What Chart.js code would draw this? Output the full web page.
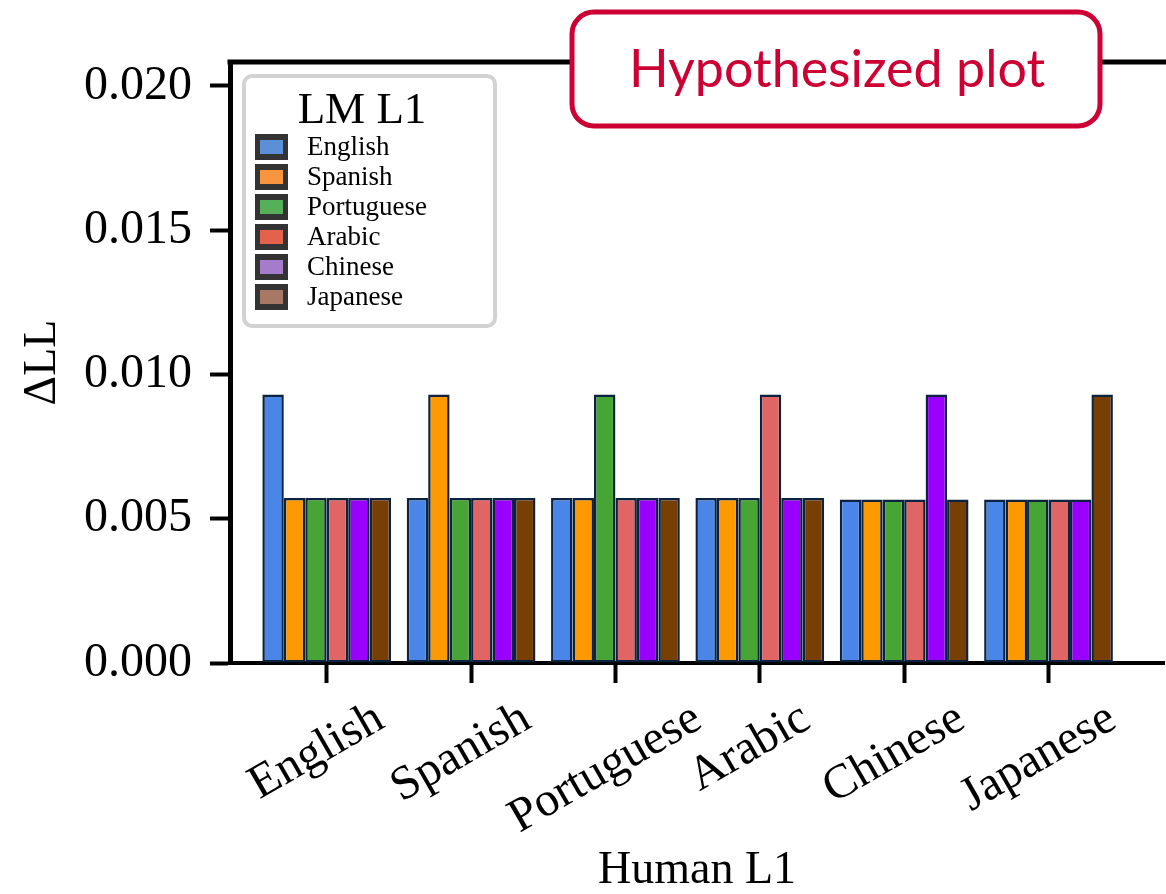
<!DOCTYPE html>
<html lang="en">
<head>
    <meta charset="utf-8">
    <script src="https://cdn.jsdelivr.net/npm/chart.js@4.4.1/dist/chart.umd.min.js"></script>
    <title>Hypothesized plot</title>
    <style>
        body { margin: 0; background: #fff; overflow: hidden; }
    </style>
</head>
<body>
<canvas id="myChart" width="1166" height="894"></canvas>
</body>
<script>
    const humanL1 = ["English", "Spanish", "Portuguese", "Arabic", "Chinese", "Japanese"];
    const lmL1 = ["English", "Spanish", "Portuguese", "Arabic", "Chinese", "Japanese"];

    // one array per LM L1, values across the Human L1 groups
    const englishLM    = [0.00931, 0.00572, 0.00572, 0.00572, 0.00567, 0.00567];
    const spanishLM    = [0.00572, 0.00931, 0.00572, 0.00572, 0.00567, 0.00567];
    const portugueseLM = [0.00572, 0.00572, 0.00931, 0.00572, 0.00567, 0.00567];
    const arabicLM     = [0.00572, 0.00572, 0.00572, 0.00931, 0.00567, 0.00567];
    const chineseLM    = [0.00572, 0.00572, 0.00572, 0.00572, 0.00931, 0.00567];
    const japaneseLM   = [0.00572, 0.00572, 0.00572, 0.00572, 0.00567, 0.00931];

    const yTicks = [0, 0.005, 0.010, 0.015, 0.020];

    const barColors = ["#4a86e8", "#ff9900", "#46a535", "#e06666", "#9900ff", "#783f04"];
    const legendColors = ["#5b8fd8", "#f7963f", "#56b05a", "#e4614b", "#a47ccb", "#a77866"];

    const seriesValues = [englishLM, spanishLM, portugueseLM, arabicLM, chineseLM, japaneseLM];

    Chart.defaults.font.family = '"Liberation Serif", "Times New Roman", serif';
    Chart.defaults.color = "#000";

    function roundRect(ctx, x, y, w, h, r) {
        ctx.beginPath();
        ctx.moveTo(x + r, y);
        ctx.lineTo(x + w - r, y);
        ctx.arcTo(x + w, y, x + w, y + r, r);
        ctx.lineTo(x + w, y + h - r);
        ctx.arcTo(x + w, y + h, x + w - r, y + h, r);
        ctx.lineTo(x + r, y + h);
        ctx.arcTo(x, y + h, x, y + h - r, r);
        ctx.lineTo(x, y + r);
        ctx.arcTo(x, y, x + r, y, r);
        ctx.closePath();
    }

    const decorPlugin = {
        id: "decor",
        afterDraw(chart) {
            const ctx = chart.ctx;
            const area = chart.chartArea;
            const xs = chart.scales.x;

            // top spine (right spine falls just outside the picture)
            ctx.save();
            ctx.strokeStyle = "#000";
            ctx.lineWidth = 5;
            ctx.beginPath();
            ctx.moveTo(area.left - 2.5, area.top);
            ctx.lineTo(chart.width, area.top);
            ctx.stroke();
            ctx.restore();

            // rotated category labels, centred under each tick
            ctx.save();
            ctx.fillStyle = "#000";
            ctx.font = '48px "Liberation Serif"';
            const a = Math.PI / 6;
            humanL1.forEach((lab, i) => {
                const px = xs.getPixelForValue(i);
                const w = ctx.measureText(lab).width;
                const bh = w * Math.sin(a) + 40 * Math.cos(a);
                ctx.save();
                ctx.translate(px - 10, xs.top + 35 + bh / 2);
                ctx.rotate(-a);
                ctx.textAlign = "center";
                ctx.textBaseline = "middle";
                ctx.fillText(lab, 0, 0);
                ctx.restore();
            });
            ctx.restore();

            // legend box
            ctx.save();
            roundRect(ctx, 244, 76, 251, 250, 8);
            ctx.fillStyle = "rgba(255,255,255,0.9)";
            ctx.fill();
            ctx.strokeStyle = "#d2d2d2";
            ctx.lineWidth = 4;
            ctx.stroke();
            ctx.fillStyle = "#000";
            ctx.font = '45px "Liberation Serif"';
            ctx.textAlign = "center";
            ctx.textBaseline = "alphabetic";
            ctx.fillText("LM L1", 362, 123);
            ctx.font = '27px "Liberation Serif"';
            ctx.textAlign = "left";
            ctx.textBaseline = "middle";
            lmL1.forEach((lab, i) => {
                const cy = 147 + i * 30;
                ctx.fillStyle = "#333";
                ctx.fillRect(255, cy - 13, 33, 26);
                ctx.fillStyle = legendColors[i];
                ctx.fillRect(260, cy - 7, 23, 14);
                ctx.fillStyle = "#000";
                ctx.fillText(lab, 307, cy + 1);
            });
            ctx.restore();

            // "Hypothesized plot" badge
            ctx.save();
            roundRect(ctx, 572, 12, 528, 114, 22);
            ctx.fillStyle = "#fff";
            ctx.fill();
            ctx.strokeStyle = "#cc0033";
            ctx.lineWidth = 5;
            ctx.stroke();
            ctx.fillStyle = "#cc0033";
            ctx.font = '52px Lato';
            ctx.textAlign = "center";
            ctx.textBaseline = "middle";
            ctx.fillText("Hypothesized plot", 837, 70);
            ctx.restore();
        }
    };

    const chart = new Chart("myChart", {
        type: "bar",
        data: {
            datasets: lmL1.map((lab, d) => ({
                label: lab,
                data: seriesValues[d].map((v, i) => ({x: i, y: v})),
                backgroundColor: barColors[d],
                borderColor: "#0c2340",
                borderWidth: 2.5,
                borderSkipped: false,
                categoryPercentage: 0.892,
                barPercentage: 1.0
            }))
        },
        options: {
            responsive: false,
            animation: false,
            layout: {padding: {top: 62, right: 2, left: 0, bottom: 0}},
            plugins: {
                legend: {display: false},
                tooltip: {enabled: false}
            },
            scales: {
                x: {
                    type: "linear",
                    offset: false,
                    min: -0.67,
                    max: 5.80,
                    afterBuildTicks: (s) => { s.ticks = humanL1.map((c, i) => ({value: i})); },
                    afterFit: (s) => { s.height = 231; },
                    ticks: {display: false},
                    grid: {offset: false, drawOnChartArea: false, drawTicks: true, tickLength: 20, tickWidth: 4, color: "#000"},
                    border: {display: true, width: 4, color: "#000"},
                    title: {
                        display: true,
                        text: "Human L1",
                        font: {size: 46, lineHeight: 1},
                        padding: {top: 0, bottom: 0}
                    }
                },
                y: {
                    min: 0,
                    max: 0.02083,
                    afterBuildTicks: (s) => { s.ticks = yTicks.map(v => ({value: v})); },
                    afterFit: (s) => { s.width = 230; },
                    ticks: {
                        font: {size: 48},
                        padding: 18,
                        callback: (v) => v.toFixed(3)
                    },
                    grid: {drawOnChartArea: false, drawTicks: true, tickLength: 20, tickWidth: 4, color: "#000"},
                    border: {display: true, width: 5, color: "#000"},
                    title: {
                        display: true,
                        text: "ΔLL",
                        font: {size: 46, lineHeight: 1},
                        padding: {top: 20, bottom: 0}
                    }
                }
            }
        },
        plugins: [decorPlugin]
    });
</script>
</html>
